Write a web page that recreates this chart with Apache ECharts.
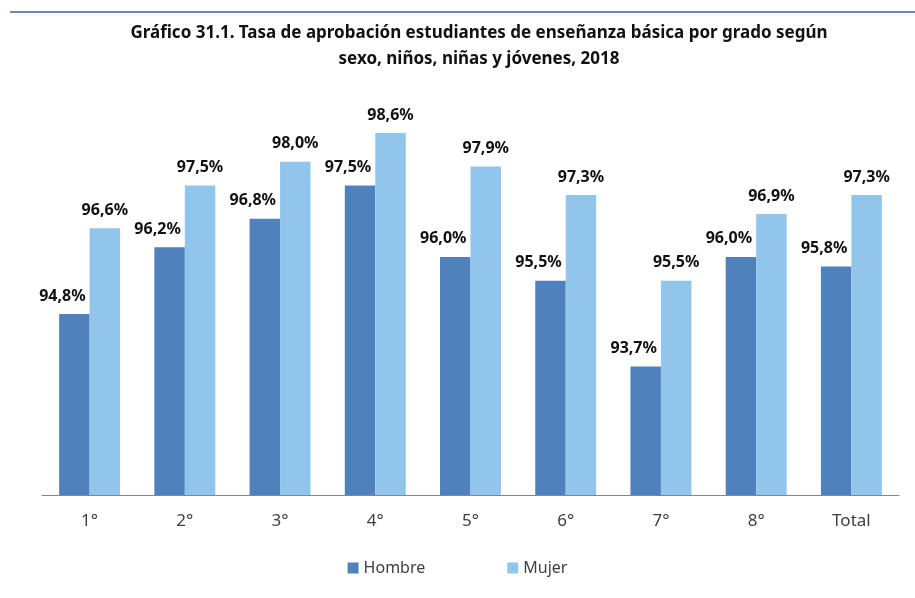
<!DOCTYPE html>
<html><head><meta charset="utf-8">
<script src="https://cdn.jsdelivr.net/npm/echarts@6/dist/echarts.min.js"></script>
<style>html,body{margin:0;padding:0;background:#fff}#c{width:915px;height:598px}</style>
</head><body><div id="c"></div>
<script>
const categories = ['1°','2°','3°','4°','5°','6°','7°','8°','Total'];
const hombre = [94.8, 96.2, 96.8, 97.5, 96.0, 95.5, 93.7, 96.0, 95.8];
const mujer  = [96.6, 97.5, 98.0, 98.6, 97.9, 97.3, 95.5, 96.9, 97.3];
const seriesNames = ['Hombre','Mujer'];
const fmt = p => p.value.toFixed(1).replace('.', ',') + '%';
const chart = echarts.init(document.getElementById('c'));
chart.setOption({
  animation:false,
  title:{
    text:'Gráfico 31.1. Tasa de aprobación estudiantes de enseñanza básica por grado según\nsexo, niños, niñas y jóvenes, 2018',
    left:474, top:15, textAlign:'center',
    textStyle:{fontFamily:'Noto Sans', fontSize:17, fontWeight:'bold', color:'#111', lineHeight:26}
  },
  graphic:[{type:'line', shape:{x1:10,y1:12,x2:915,y2:12}, style:{stroke:'#3f5f9f', lineWidth:1.5}}],
  legend:{
    data:seriesNames, bottom:17, left:'center', itemGap:82, itemWidth:11, itemHeight:11,
    icon:'rect', textStyle:{fontFamily:'Noto Sans', fontSize:16, color:'#404040'}
  },
  grid:{left:42, right:16, top:114, bottom:103},
  xAxis:{
    type:'category', data:categories,
    axisLine:{lineStyle:{color:'#868686'}},
    axisTick:{length:5, lineStyle:{color:'#868686'}},
    axisLabel:{fontFamily:'Noto Sans', fontSize:17, color:'#404040', margin:18}
  },
  yAxis:{type:'value', min:91, max:99, show:false, splitLine:{show:false}},
  series:[
    {name:seriesNames[0], type:'bar', data:hombre, barGap:'0%', barCategoryGap:'36%',
     itemStyle:{color:'#4f81bd'},
     label:{show:true, position:'top', distance:10, offset:[-12,0], formatter:fmt,
            fontFamily:'Noto Sans', fontSize:16, fontWeight:'bold', color:'#111'}},
    {name:seriesNames[1], type:'bar', data:mujer,
     itemStyle:{color:'#92c5eb'},
     label:{show:true, position:'top', distance:10, formatter:fmt,
            fontFamily:'Noto Sans', fontSize:16, fontWeight:'bold', color:'#111'}}
  ]
});
</script></body></html>
